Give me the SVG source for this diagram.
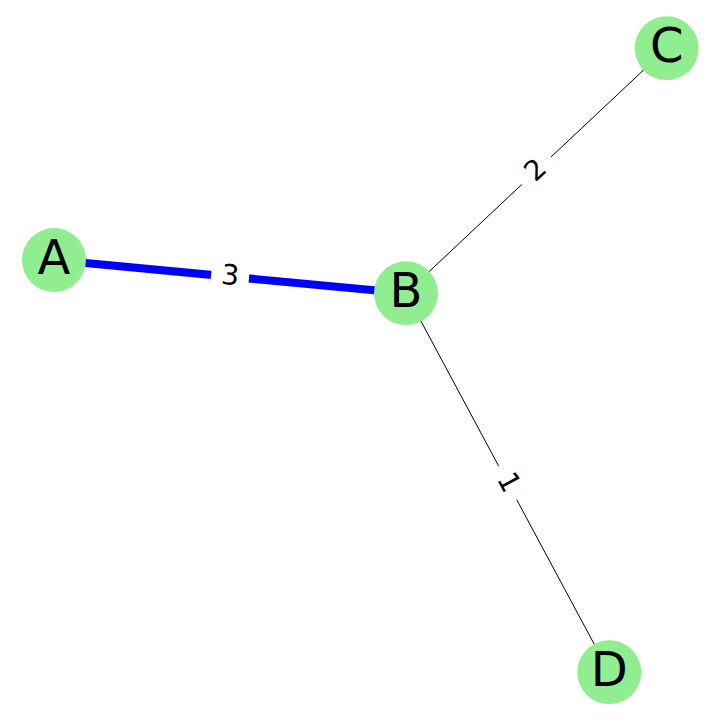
<svg xmlns="http://www.w3.org/2000/svg" width="720" height="720" viewBox="0 0 720 720">
<style>
.n{fill:#90EE90}
.nl{font-family:"DejaVu Sans",sans-serif;font-size:48px;fill:#000;text-anchor:middle}
.el{font-family:"DejaVu Sans",sans-serif;font-size:28px;fill:#000;text-anchor:middle}
.bx{fill:#fff}
</style>
<rect width="720" height="720" fill="#fff"/>
<g id="edges">
<line x1="54" y1="260" x2="406" y2="293.3" stroke="#0000FF" stroke-width="8"/>
<line x1="406" y1="293.3" x2="666.7" y2="48.3" stroke="#000" stroke-width="1"/>
<line x1="406" y1="293.3" x2="609.3" y2="672.3" stroke="#000" stroke-width="1"/>
<g transform="translate(230,276.7) rotate(5.4)">
<rect class="bx" x="-19" y="-19" width="38" height="38"/>
<text class="el" x="0" y="8">3</text>
</g>
<g transform="translate(536.3,170.8) rotate(-43.2)">
<rect class="bx" x="-20" y="-19" width="40" height="38"/>
<text class="el" x="0" y="8">2</text>
</g>
<g transform="translate(507.7,482.8) rotate(61.8)">
<rect class="bx" x="-19" y="-19" width="38" height="38"/>
<text class="el" x="0" y="8">1</text>
</g>
</g>
<g id="node-A"><circle class="n" cx="54" cy="260" r="32"/><text class="nl" x="54" y="273.5">A</text></g>
<g id="node-B"><circle class="n" cx="406" cy="293.3" r="32"/><text class="nl" x="406" y="306.8">B</text></g>
<g id="node-C"><circle class="n" cx="666.7" cy="48.3" r="32"/><text class="nl" x="666.7" y="61.8">C</text></g>
<g id="node-D"><circle class="n" cx="609.3" cy="672.3" r="32"/><text class="nl" x="609.3" y="685.8">D</text></g>
</svg>
